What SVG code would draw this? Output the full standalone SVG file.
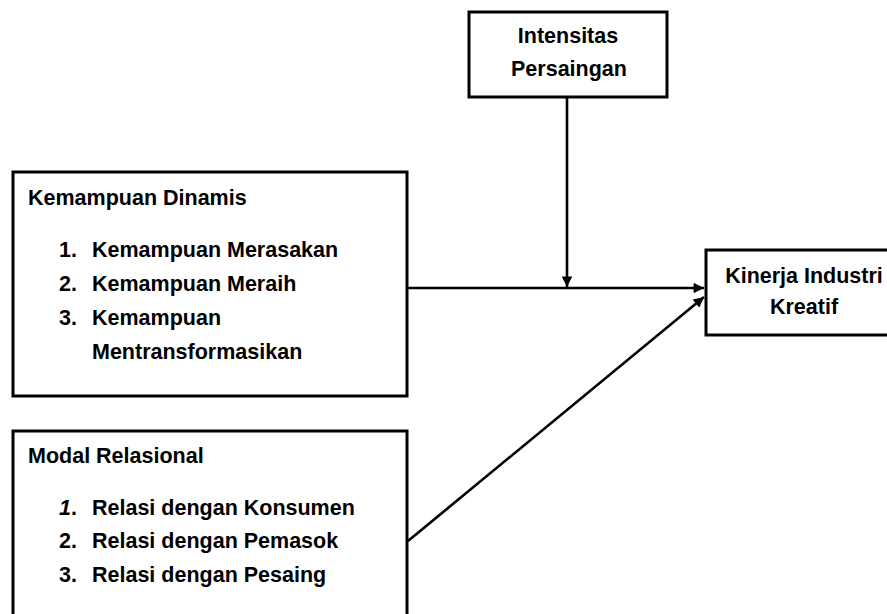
<svg xmlns="http://www.w3.org/2000/svg" width="887" height="614" viewBox="0 0 887 614">
<style>
.box{fill:#fff;stroke:#000;stroke-width:3}
.t{font-family:"Liberation Sans",Arial,sans-serif;font-weight:bold;font-size:21.5px;fill:#000}
.c{text-anchor:middle}
.con{stroke:#000;stroke-width:2.6;fill:none}
</style>
<defs>
<marker id="ah" viewBox="0 0 10 10" refX="10" refY="5" markerWidth="4.2" markerHeight="4" markerUnits="strokeWidth" orient="auto">
<path d="M0,0 L10,5 L0,10 z" fill="#000"/>
</marker>
</defs>
<rect width="887" height="614" fill="#fff"/>
<g id="connectors">
<line class="con" x1="408" y1="288" x2="704" y2="288" marker-end="url(#ah)"/>
<line class="con" x1="567" y1="97" x2="567" y2="287" marker-end="url(#ah)"/>
<line class="con" x1="408" y1="541" x2="704" y2="297" marker-end="url(#ah)"/>
</g>
<g id="intensitas">
<rect class="box" x="469" y="12" width="198" height="85"/>
<text class="t c" x="568" y="43">Intensitas</text>
<text class="t c" x="569" y="76">Persaingan</text>
</g>
<g id="kemampuan">
<rect class="box" x="13" y="172" width="394" height="224"/>
<text class="t" x="28" y="205">Kemampuan Dinamis</text>
<text class="t" x="59" y="257">1.</text>
<text class="t" x="92" y="257">Kemampuan Merasakan</text>
<text class="t" x="59" y="291">2.</text>
<text class="t" x="92" y="291">Kemampuan Meraih</text>
<text class="t" x="59" y="325">3.</text>
<text class="t" x="92" y="325">Kemampuan</text>
<text class="t" x="92" y="359">Mentransformasikan</text>
</g>
<g id="modal">
<rect class="box" x="13" y="431" width="394" height="190"/>
<text class="t" x="28" y="463">Modal Relasional</text>
<text class="t" x="59" y="515" font-style="italic">1<tspan font-style="normal">.</tspan></text>
<text class="t" x="92" y="515">Relasi dengan Konsumen</text>
<text class="t" x="59" y="548">2.</text>
<text class="t" x="92" y="548">Relasi dengan Pemasok</text>
<text class="t" x="59" y="582">3.</text>
<text class="t" x="92" y="582">Relasi dengan Pesaing</text>
</g>
<g id="kinerja">
<rect class="box" x="706" y="250" width="190" height="85"/>
<text class="t c" x="804" y="283">Kinerja Industri</text>
<text class="t c" x="804" y="314">Kreatif</text>
</g>
</svg>
